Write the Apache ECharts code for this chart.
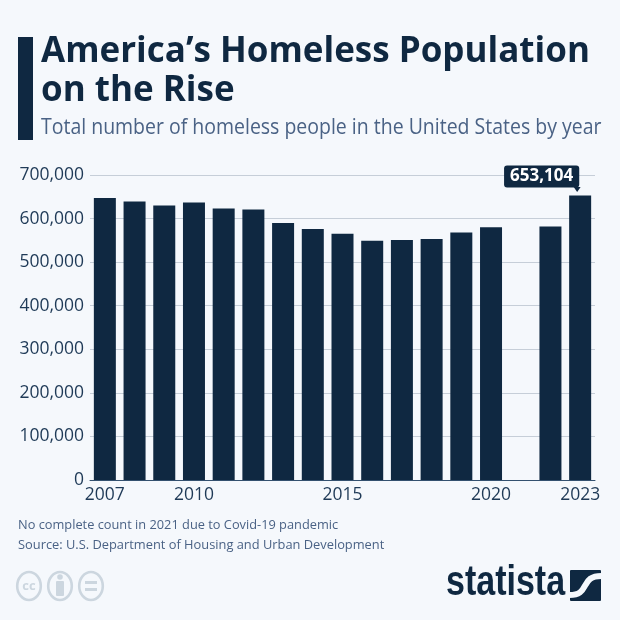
<!DOCTYPE html>
<html lang="en">
<head>
    <meta charset="UTF-8">
    <title>America's Homeless Population on the Rise</title>
    <script src="https://cdn.jsdelivr.net/npm/echarts@6/dist/echarts.min.js"></script>
    <style>
        html, body { margin: 0; padding: 0; background: #f5f8fc; }
        #main { width: 620px; height: 620px; }
    </style>
</head>
<body>
    <div id="main"></div>
    <script>
        var years = ['2007', '2008', '2009', '2010', '2011', '2012', '2013', '2014', '2015', '2016', '2017', '2018', '2019', '2020', '2021', '2022', '2023'];
        var homeless = [647000, 639000, 630000, 637000, 623000, 621000, 590000, 576000, 565000, 549000, 551000, 553000, 568000, 580000, null, 582000, 653104];
        var shownYears = ['2007', '2010', '2015', '2020', '2023'];
        var titleLines = 'America’s Homeless Population\non the Rise';
        var subtitle = 'Total number of homeless people in the United States by year';
        var footNote = 'No complete count in 2021 due to Covid-19 pandemic';
        var source = 'Source: U.S. Department of Housing and Urban Development';

        var navy = '#0f2841';
        var slate = '#4a6285';
        var bg = '#f5f8fc';
        var iconGrey = '#ccd6df';
        var font = '"Open Sans", sans-serif';

        // the three licence badges under the source line
        function ccIcon(cx, inner) {
            return {
                type: 'group',
                children: [{
                    type: 'ellipse',
                    shape: { cx: cx, cy: 586, rx: 11.8, ry: 14 },
                    style: { fill: 'none', stroke: iconGrey, lineWidth: 2.6 }
                }].concat(inner)
            };
        }

        var option = {
            backgroundColor: bg,
            animation: false,
            grid: { left: 90, right: 25, top: 175, bottom: 140 },
            xAxis: {
                type: 'category',
                data: years,
                axisTick: { show: false },
                axisLine: { lineStyle: { color: '#33506f', width: 1 } },
                axisLabel: {
                    interval: 0,
                    color: '#1f3a57',
                    fontFamily: font,
                    fontSize: 17.5,
                    margin: 6,
                    formatter: function (v) {
                        return shownYears.indexOf(v) >= 0 ? v : '';
                    }
                }
            },
            yAxis: {
                type: 'value',
                min: 0,
                max: 700000,
                interval: 100000,
                axisLine: { show: false },
                axisTick: { show: false },
                splitLine: { lineStyle: { color: '#c6ced8', width: 1 } },
                axisLabel: {
                    color: '#1f3a57',
                    fontFamily: font,
                    fontSize: 17.5,
                    margin: 6,
                    formatter: function (v) {
                        return v.toLocaleString('en-US');
                    }
                }
            },
            series: [{
                type: 'bar',
                data: homeless.map(function (v, i) {
                    if (i !== homeless.length - 1) return v;
                    return {
                        value: v,
                        label: {
                            show: true,
                            position: 'top',
                            offset: [-38.5, -3],
                            formatter: function (p) { return p.value.toLocaleString('en-US'); },
                            color: '#ffffff',
                            fontFamily: font,
                            fontWeight: 'bold',
                            fontSize: 17,
                            lineHeight: 16,
                            backgroundColor: navy,
                            borderRadius: 3,
                            padding: [3, 6, 3, 6]
                        }
                    };
                }),
                barWidth: 22,
                itemStyle: { color: navy },
                markPoint: {
                    silent: true,
                    symbol: 'triangle',
                    symbolRotate: 180,
                    symbolSize: [7, 5],
                    symbolOffset: [-3, -6],
                    itemStyle: { color: navy },
                    label: { show: false },
                    data: [{ coord: ['2023', 653104] }]
                }
            }],
            graphic: [
                { type: 'rect', shape: { x: 18, y: 37, width: 15, height: 103 }, style: { fill: navy } },
                {
                    type: 'text', x: 41, y: 33,
                    style: { text: titleLines, fill: navy, font: 'bold 35px ' + font, lineHeight: 39 }
                },
                {
                    type: 'text', x: 41, y: 117, scaleX: 0.906,
                    style: { text: subtitle, fill: slate, font: '21.5px ' + font }
                },
                {
                    type: 'text', x: 18, y: 519,
                    style: { text: footNote, fill: slate, font: '12.8px ' + font }
                },
                {
                    type: 'text', x: 18, y: 539,
                    style: { text: source, fill: slate, font: '12.85px ' + font }
                },
                ccIcon(29, [{
                    type: 'text', x: 29, y: 586,
                    style: { text: 'cc', fill: iconGrey, font: 'bold 13px ' + font, align: 'center', verticalAlign: 'middle' }
                }]),
                ccIcon(60, [
                    { type: 'circle', shape: { cx: 60, cy: 577, r: 2.8 }, style: { fill: iconGrey } },
                    { type: 'rect', shape: { x: 56, y: 581, width: 8, height: 15, r: 1 }, style: { fill: iconGrey } }
                ]),
                ccIcon(91, [
                    { type: 'rect', shape: { x: 85, y: 581, width: 12, height: 3 }, style: { fill: iconGrey } },
                    { type: 'rect', shape: { x: 85, y: 588, width: 12, height: 3 }, style: { fill: iconGrey } }
                ]),
                {
                    type: 'text', x: 446, y: 562, scaleX: 0.81,
                    style: { text: 'statista', fill: navy, font: 'bold 42px "Liberation Sans", sans-serif' }
                },
                { type: 'rect', shape: { x: 570, y: 570, width: 31, height: 31, r: 1 }, style: { fill: navy } },
                {
                    type: 'bezierCurve',
                    shape: { x1: 568, y1: 595, x2: 603, y2: 576, cpx1: 592, cpy1: 596, cpx2: 578, cpy2: 575 },
                    style: { fill: 'none', stroke: bg, lineWidth: 6 }
                }
            ]
        };

        echarts.init(document.getElementById('main')).setOption(option);
    </script>
</body>
</html>
